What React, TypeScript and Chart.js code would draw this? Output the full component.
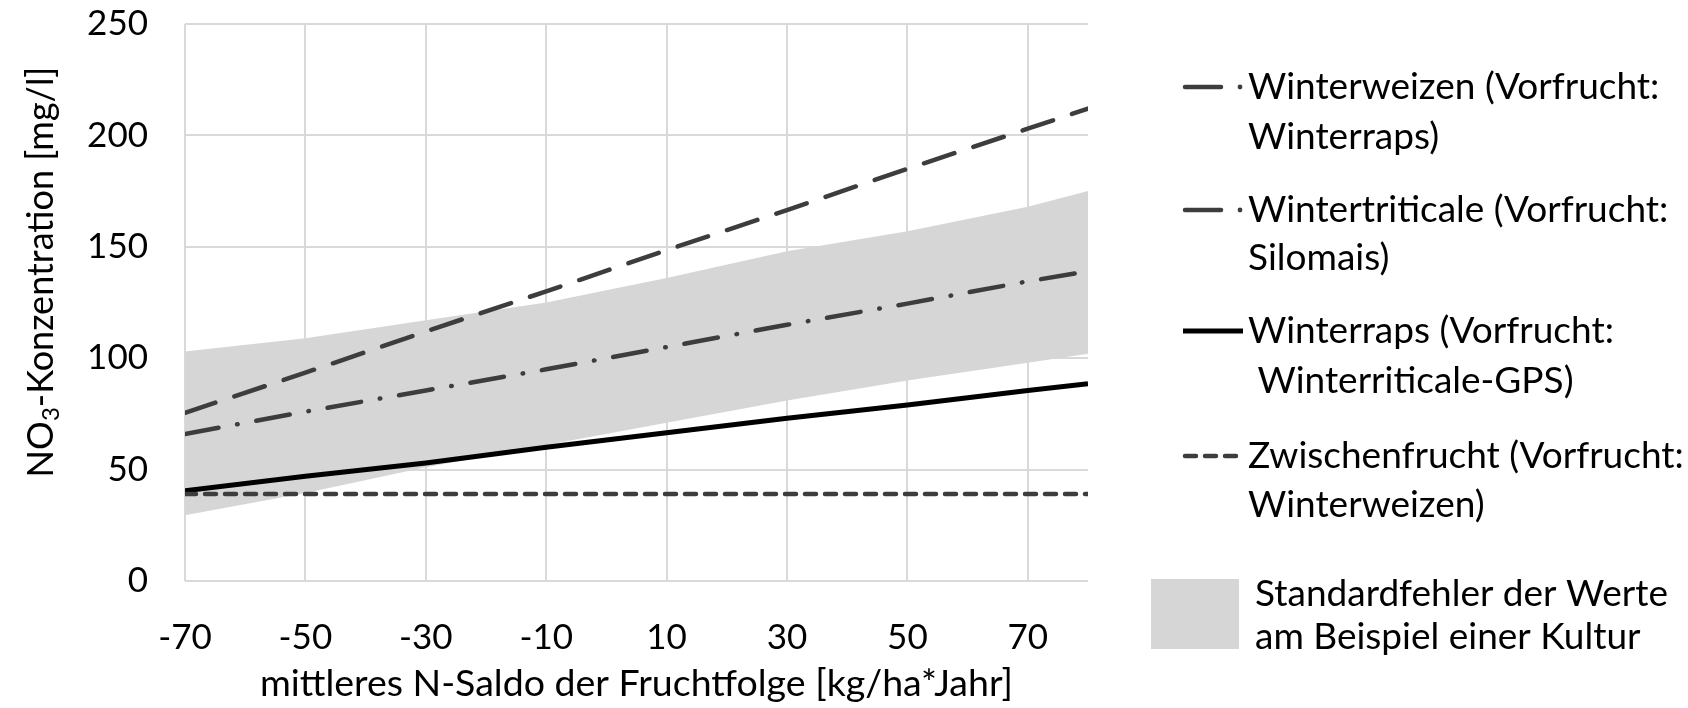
import { useEffect, useRef } from 'react';
import { Chart, registerables } from 'chart.js';

Chart.register(...registerables);

const X_VALUES = [-70, -50, -30, -10, 10, 30, 50, 70, 80];
const X_TICKS = [-70, -50, -30, -10, 10, 30, 50, 70];
const WINTERWEIZEN = [75.5, 93.5, 112, 130, 148.5, 166.5, 185, 203, 212];
const WINTERTRITICALE = [66, 76, 85.5, 95, 105, 115, 124.5, 134.5, 139];
const WINTERRAPS = [40.5, 47, 53, 60, 66.5, 73, 79, 85.5, 88.5];
const ZWISCHENFRUCHT = [39, 39, 39, 39, 39, 39, 39, 39, 39];
const SE_LOWER = [29.5, 39.5, 51, 61, 71, 81, 90, 98, 102];
const SE_UPPER = [103, 109, 117, 125, 136, 148, 157, 168, 175];

const LEGEND_LINES = [
  ['Winterweizen (Vorfrucht:', 'Winterraps)'],
  ['Wintertriticale (Vorfrucht:', 'Silomais)'],
  ['Winterraps (Vorfrucht:', ' Winterriticale-GPS)'],
  ['Zwischenfrucht (Vorfrucht:', 'Winterweizen)'],
  ['Standardfehler der Werte', 'am Beispiel einer Kultur'],
];
const Y_TITLE = ['NO', '3', '-Konzentration [mg/l]'];
const X_TITLE = 'mittleres N-Saldo der Fruchtfolge [kg/ha*Jahr]';

const FONT = 'Lato';
const LINE_GRAY = '#3d3d3d';
const BAND = '#d6d6d6';

const pts = (ys: number[]) => X_VALUES.map((x, i) => ({ x, y: ys[i] }));

const overlay = {
  id: 'overlay',
  afterDraw(chart: any) {
    const ctx = chart.ctx as CanvasRenderingContext2D;
    const area = chart.chartArea;
    ctx.save();
    ctx.fillStyle = '#000';
    ctx.textBaseline = 'middle';
    // x title
    ctx.font = `37.5px ${FONT}`;
    ctx.textAlign = 'center';
    ctx.fillText(X_TITLE, (area.left + area.right) / 2, 684);
    // y title with subscript
    ctx.save();
    ctx.translate(41, 272);
    ctx.rotate(-Math.PI / 2);
    ctx.textAlign = 'left';
    ctx.font = `36px ${FONT}`;
    const w0 = ctx.measureText(Y_TITLE[0]).width;
    const w2 = ctx.measureText(Y_TITLE[2]).width;
    ctx.font = `24px ${FONT}`;
    const w1 = ctx.measureText(Y_TITLE[1]).width;
    let x = -(w0 + w1 + w2) / 2;
    ctx.font = `36px ${FONT}`;
    ctx.fillText(Y_TITLE[0], x, 0);
    x += w0;
    ctx.font = `24px ${FONT}`;
    ctx.fillText(Y_TITLE[1], x, 10);
    x += w1;
    ctx.font = `36px ${FONT}`;
    ctx.fillText(Y_TITLE[2], x, 0);
    ctx.restore();

    // legend
    const rows = [
      { y1: 87, y2: 137, tx: 1248 },
      { y1: 210, y2: 258, tx: 1248 },
      { y1: 331, y2: 381, tx: 1248 },
      { y1: 456, y2: 505, tx: 1248 },
      { y1: 594, y2: 637, tx: 1255 },
    ];
    ctx.lineCap = 'round';
    // entry 1 & 2: dash + dot
    for (const i of [0, 1]) {
      const y = rows[i].y1;
      ctx.strokeStyle = LINE_GRAY;
      ctx.lineWidth = 4.5;
      ctx.beginPath();
      ctx.moveTo(1185, y);
      ctx.lineTo(1221, y);
      ctx.stroke();
      ctx.fillStyle = LINE_GRAY;
      ctx.beginPath();
      ctx.arc(1240, y, 2.4, 0, Math.PI * 2);
      ctx.fill();
    }
    // entry 3 solid black
    ctx.strokeStyle = '#000';
    ctx.lineWidth = 5;
    ctx.lineCap = 'butt';
    ctx.beginPath();
    ctx.moveTo(1183, rows[2].y1);
    ctx.lineTo(1243, rows[2].y1);
    ctx.stroke();
    // entry 4 short dashes
    ctx.strokeStyle = LINE_GRAY;
    ctx.lineWidth = 4.5;
    ctx.lineCap = 'round';
    ctx.setLineDash([11, 9]);
    ctx.beginPath();
    ctx.moveTo(1185, rows[3].y1);
    ctx.lineTo(1236, rows[3].y1);
    ctx.stroke();
    ctx.setLineDash([]);
    // entry 5 box
    ctx.fillStyle = BAND;
    ctx.fillRect(1151, 579, 88, 70);

    ctx.fillStyle = '#000';
    ctx.textAlign = 'left';
    ctx.font = `37px ${FONT}`;
    rows.forEach((r, i) => {
      ctx.fillText(LEGEND_LINES[i][0], r.tx, r.y1);
      ctx.fillText(LEGEND_LINES[i][1], r.tx, r.y2);
    });
    ctx.restore();
  },
};

export default function App() {
  const ref = useRef<HTMLCanvasElement>(null);
  useEffect(() => {
    document.body.style.margin = '0';
    const chart = new Chart(ref.current!, {
      type: 'line',
      data: {
        datasets: [
          {
            label: 'Zwischenfrucht (Vorfrucht: Winterweizen)',
            data: pts(ZWISCHENFRUCHT),
            borderColor: LINE_GRAY,
            borderWidth: 4.5,
            borderDash: [11, 9],
            borderCapStyle: 'round',
            pointRadius: 0,
            fill: false,
          },
          {
            label: 'Winterraps (Vorfrucht: Winterriticale-GPS)',
            data: pts(WINTERRAPS),
            borderColor: '#000',
            borderWidth: 5,
            pointRadius: 0,
            fill: false,
          },
          {
            label: 'Wintertriticale (Vorfrucht: Silomais)',
            data: pts(WINTERTRITICALE),
            borderColor: LINE_GRAY,
            borderWidth: 4.5,
            borderDash: [34, 19, 0.5, 19],
            borderCapStyle: 'round',
            pointRadius: 0,
            fill: false,
          },
          {
            label: 'Winterweizen (Vorfrucht: Winterraps)',
            data: pts(WINTERWEIZEN),
            borderColor: LINE_GRAY,
            borderWidth: 4.5,
            borderDash: [32, 20],
            borderCapStyle: 'round',
            pointRadius: 0,
            fill: false,
          },
          {
            label: 'SE lower',
            data: pts(SE_LOWER),
            borderColor: 'transparent',
            borderWidth: 0,
            pointRadius: 0,
            fill: false,
          },
          {
            label: 'Standardfehler der Werte am Beispiel einer Kultur',
            data: pts(SE_UPPER),
            borderColor: 'transparent',
            borderWidth: 0,
            pointRadius: 0,
            backgroundColor: BAND,
            fill: '-1',
          },
        ],
      },
      options: {
        responsive: false,
        animation: false,
        devicePixelRatio: 1,
        layout: { padding: { top: 0, right: 600, left: 0, bottom: 0 } },
        plugins: { legend: { display: false }, tooltip: { enabled: false } },
        scales: {
          x: {
            type: 'linear',
            min: -70,
            max: 80,
            afterBuildTicks: (s: any) => {
              s.ticks = X_TICKS.map((v) => ({ value: v }));
            },
            afterFit: (s: any) => {
              s.height = 127;
            },
            grid: { color: '#d9d9d9', lineWidth: 2, drawTicks: false },
            border: { display: false },
            ticks: {
              font: { family: FONT, size: 35 },
              color: '#000',
              padding: 36,
              maxRotation: 0,
              autoSkip: false,
            },
          },
          y: {
            min: 0,
            max: 250,
            afterFit: (s: any) => {
              s.width = 185;
              s.paddingTop = 24;
              s.paddingBottom = 0;
            },
            grid: { color: '#d9d9d9', lineWidth: 2, drawTicks: false },
            border: { display: false },
            ticks: {
              stepSize: 50,
              font: { family: FONT, size: 35 },
              color: '#000',
              padding: 37,
            },
          },
        },
      },
      plugins: [overlay],
    } as any);
    return () => chart.destroy();
  }, []);
  return <canvas ref={ref} width={1688} height={708} style={{ display: 'block' }} />;
}
